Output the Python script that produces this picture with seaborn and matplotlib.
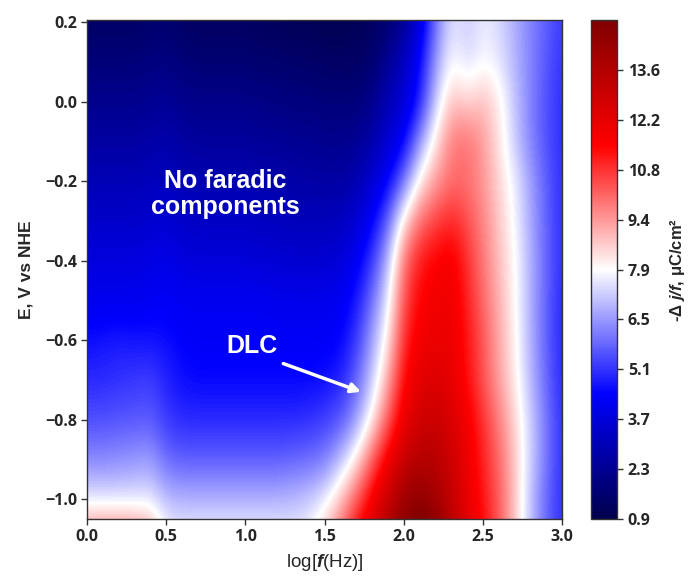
import numpy as np
import matplotlib
matplotlib.use("Agg")
import matplotlib.pyplot as plt
import seaborn as sns

# ---------------- data ----------------
log_f = [0.0, 0.1, 0.2, 0.3, 0.4, 0.5, 0.6, 0.7, 0.8, 0.9, 1.0,
         1.1, 1.2, 1.3, 1.4, 1.5, 1.6, 1.7, 1.8, 1.9, 2.0,
         2.1, 2.2, 2.3, 2.4, 2.5, 2.6, 2.7, 2.8, 2.9, 3.0]
potential = [-1.1, -1.0, -0.9, -0.8, -0.7, -0.6, -0.5, -0.4, -0.3, -0.2, -0.1, 0.0, 0.1, 0.2]

row_m110 = [10.0, 10.2, 10.3, 10.1, 9.7, 8.0, 7.9, 7.9, 7.9, 7.9, 7.9, 7.9, 7.9, 7.8, 8.0, 8.9, 10.2, 11.7, 12.7, 14.0, 15.0, 15.5, 15.0, 13.6, 12.4, 11.4, 10.2, 8.7, 7.0, 5.8, 5.0]
row_m100 = [7.6, 7.5, 7.5, 7.5, 7.6, 7.0, 6.9, 6.9, 6.9, 6.9, 6.9, 6.9, 6.9, 7.0, 7.2, 7.7, 8.8, 10.3, 11.7, 13.0, 14.2, 14.5, 14.0, 13.0, 12.0, 11.2, 10.2, 8.7, 7.0, 5.8, 5.0]
row_m090 = [6.3, 6.3, 6.4, 6.5, 6.6, 5.9, 5.7, 5.7, 5.7, 5.7, 5.7, 5.7, 5.7, 5.8, 5.9, 6.1, 7.0, 8.3, 10.3, 11.8, 13.0, 13.5, 13.4, 12.8, 11.9, 11.0, 10.0, 8.7, 7.2, 6.0, 5.0]
row_m080 = [5.5, 5.5, 5.6, 5.6, 5.7, 5.2, 5.0, 5.0, 5.0, 5.0, 5.0, 5.0, 5.0, 5.0, 5.1, 5.3, 5.6, 6.5, 8.2, 10.3, 12.0, 12.8, 12.9, 12.5, 11.7, 10.8, 9.7, 8.5, 7.2, 6.0, 5.0]
row_m070 = [5.0, 5.0, 5.1, 5.2, 5.3, 4.9, 4.6, 4.5, 4.5, 4.5, 4.5, 4.5, 4.5, 4.5, 4.5, 4.6, 4.9, 5.8, 7.2, 9.2, 11.5, 12.2, 12.4, 12.1, 11.3, 10.3, 9.2, 8.2, 6.9, 5.8, 4.9]
row_m060 = [4.6, 4.7, 4.8, 4.7, 4.7, 4.6, 4.4, 4.3, 4.3, 4.3, 4.3, 4.3, 4.3, 4.3, 4.3, 4.3, 4.4, 5.2, 6.7, 8.3, 11.0, 11.8, 12.0, 12.0, 11.2, 10.3, 9.1, 8.1, 6.8, 5.7, 4.9]
row_m050 = [4.1, 4.1, 4.1, 4.1, 4.2, 4.3, 4.2, 4.2, 4.2, 4.2, 4.2, 4.2, 4.1, 4.1, 4.1, 4.1, 4.2, 4.7, 6.0, 7.7, 10.5, 11.5, 11.8, 11.9, 11.0, 10.0, 9.0, 8.0, 6.8, 5.7, 4.9]
row_m040 = [3.8, 3.8, 3.8, 3.8, 3.9, 4.0, 3.8, 3.7, 3.7, 3.7, 3.7, 3.6, 3.6, 3.5, 3.5, 3.5, 3.7, 4.2, 5.2, 7.0, 10.0, 11.2, 11.5, 11.8, 10.8, 9.8, 8.8, 8.0, 6.8, 5.8, 5.0]
row_m030 = [3.4, 3.4, 3.4, 3.4, 3.5, 3.6, 3.4, 3.3, 3.3, 3.3, 3.3, 3.2, 3.2, 3.1, 3.1, 3.1, 3.2, 3.6, 4.4, 5.8, 8.5, 10.0, 10.6, 11.0, 10.4, 9.6, 8.7, 7.8, 6.7, 5.7, 5.0]
row_m020 = [3.0, 3.0, 3.0, 3.0, 3.1, 3.2, 3.0, 2.9, 2.9, 2.9, 2.9, 2.8, 2.8, 2.7, 2.7, 2.6, 2.6, 2.9, 3.6, 4.4, 6.0, 8.3, 9.3, 10.0, 9.9, 9.4, 8.5, 7.7, 6.6, 5.7, 5.0]
row_m010 = [2.6, 2.6, 2.6, 2.6, 2.7, 2.8, 2.6, 2.5, 2.5, 2.5, 2.5, 2.4, 2.4, 2.3, 2.3, 2.2, 2.2, 2.3, 2.8, 3.6, 4.4, 6.5, 8.4, 9.8, 10.0, 9.3, 8.3, 7.2, 6.2, 5.5, 5.0]
row_p000 = [2.2, 2.2, 2.2, 2.2, 2.3, 2.4, 2.2, 2.1, 2.1, 2.1, 2.1, 2.0, 2.0, 1.9, 1.9, 1.8, 1.8, 1.8, 2.2, 3.0, 3.6, 4.8, 7.3, 8.9, 8.5, 8.9, 8.2, 7.1, 6.2, 5.5, 5.0]
row_p010 = [1.8, 1.8, 1.8, 1.8, 1.9, 2.0, 1.8, 1.7, 1.7, 1.7, 1.7, 1.6, 1.6, 1.5, 1.5, 1.4, 1.4, 1.4, 1.6, 2.4, 3.3, 4.5, 6.6, 8.0, 7.4, 7.9, 7.6, 6.9, 6.2, 5.6, 5.1]
row_p020 = [1.4, 1.4, 1.4, 1.4, 1.5, 1.6, 1.4, 1.3, 1.3, 1.3, 1.3, 1.2, 1.2, 1.1, 1.1, 1.0, 1.0, 1.1, 1.3, 1.6, 2.3, 3.8, 6.0, 7.6, 7.2, 7.7, 7.4, 6.8, 6.2, 5.7, 5.2]

cbar_ticklabels = ["0.9", "2.3", "3.7", "5.1", "6.5", "7.9", "9.4", "10.8", "12.2", "13.6"]
x_ticks = [0.0, 0.5, 1.0, 1.5, 2.0, 2.5, 3.0]
y_ticks = [-1.0, -0.8, -0.6, -0.4, -0.2, 0.0, 0.2]
vmin, vmax = 0.9, 15.0

# ---------------- style ----------------
sns.set_style("ticks")
plt.rcParams["font.family"] = ["Open Sans", "DejaVu Sans"]
plt.rcParams["mathtext.fontset"] = "custom"
plt.rcParams["mathtext.rm"] = "Liberation Sans"
plt.rcParams["mathtext.bf"] = "Liberation Sans:bold"
plt.rcParams["mathtext.it"] = "Liberation Sans:italic"
try:
    plt.rcParams["mathtext.bfit"] = "Liberation Sans:bold:italic"
except KeyError:
    pass

Z = np.array([row_m110, row_m100, row_m090, row_m080, row_m070, row_m060, row_m050,
              row_m040, row_m030, row_m020, row_m010, row_p000, row_p010, row_p020])
dx = log_f[1] - log_f[0]
dy = potential[1] - potential[0]
extent = (log_f[0] - dx / 2, log_f[-1] + dx / 2, potential[0] - dy / 2, potential[-1] + dy / 2)

fig = plt.figure(figsize=(6.89, 5.76), dpi=100)
ax = fig.add_axes([0.126, 0.099, 0.690, 0.866])
img = ax.imshow(Z, origin="lower", extent=extent, aspect="auto", cmap="seismic",
                vmin=vmin, vmax=vmax, interpolation="bicubic")
ax.set_xlim(0.0, 3.0)
ax.set_ylim(-1.05, 0.205)
ax.set_xticks(x_ticks)
ax.set_yticks(y_ticks)
ax.set_xticklabels([f"{t:.1f}" for t in x_ticks])
ax.set_yticklabels([f"{t:.1f}".replace("-", "\u2212") for t in y_ticks])
for lab in ax.get_xticklabels() + ax.get_yticklabels():
    lab.set_fontweight("bold")
    lab.set_fontsize(11.5)
ax.tick_params(direction="out", length=4, width=1, color="#333333", pad=3)
for s in ax.spines.values():
    s.set_color("#333333")
    s.set_linewidth(1)

ax.set_xlabel(r"log[$\mathbfit{f}$(Hz)]", fontsize=13.5, family="Liberation Sans", labelpad=5)
ax.set_ylabel("E, V vs NHE", fontsize=12.5, fontweight="bold", family="Liberation Sans", labelpad=8)

ax.text(0.872, -0.232, "No faradic\ncomponents", color="white", fontsize=18,
        fontweight="bold", family="Liberation Sans", ha="center", va="center",
        linespacing=1.12)
ax.text(1.04, -0.614, "DLC", color="white", fontsize=18, fontweight="bold",
        family="Liberation Sans", ha="center", va="center")
ax.annotate("", xy=(1.73, -0.73), xytext=(1.24, -0.659),
            arrowprops=dict(arrowstyle="-|>", color="white", lw=2.5, mutation_scale=14,
                            shrinkA=0, shrinkB=0))

cax = fig.add_axes([0.858, 0.099, 0.038, 0.866])
cticks = np.linspace(vmin, vmax, 11)[:10]
cb = fig.colorbar(img, cax=cax, ticks=cticks)
cb.ax.set_yticklabels(cbar_ticklabels)
for lab in cb.ax.get_yticklabels():
    lab.set_fontweight("bold")
    lab.set_fontsize(11.5)
cb.ax.tick_params(direction="out", length=4, width=1, color="#333333")
cb.outline.set_edgecolor("#333333")
cb.outline.set_linewidth(1)
cb.set_label(r"-Δ $\mathbfit{j/f}$, μC/cm²", fontsize=12, fontweight="bold",
             family="Liberation Sans", labelpad=6)

fig.savefig("out.png", dpi=100)
